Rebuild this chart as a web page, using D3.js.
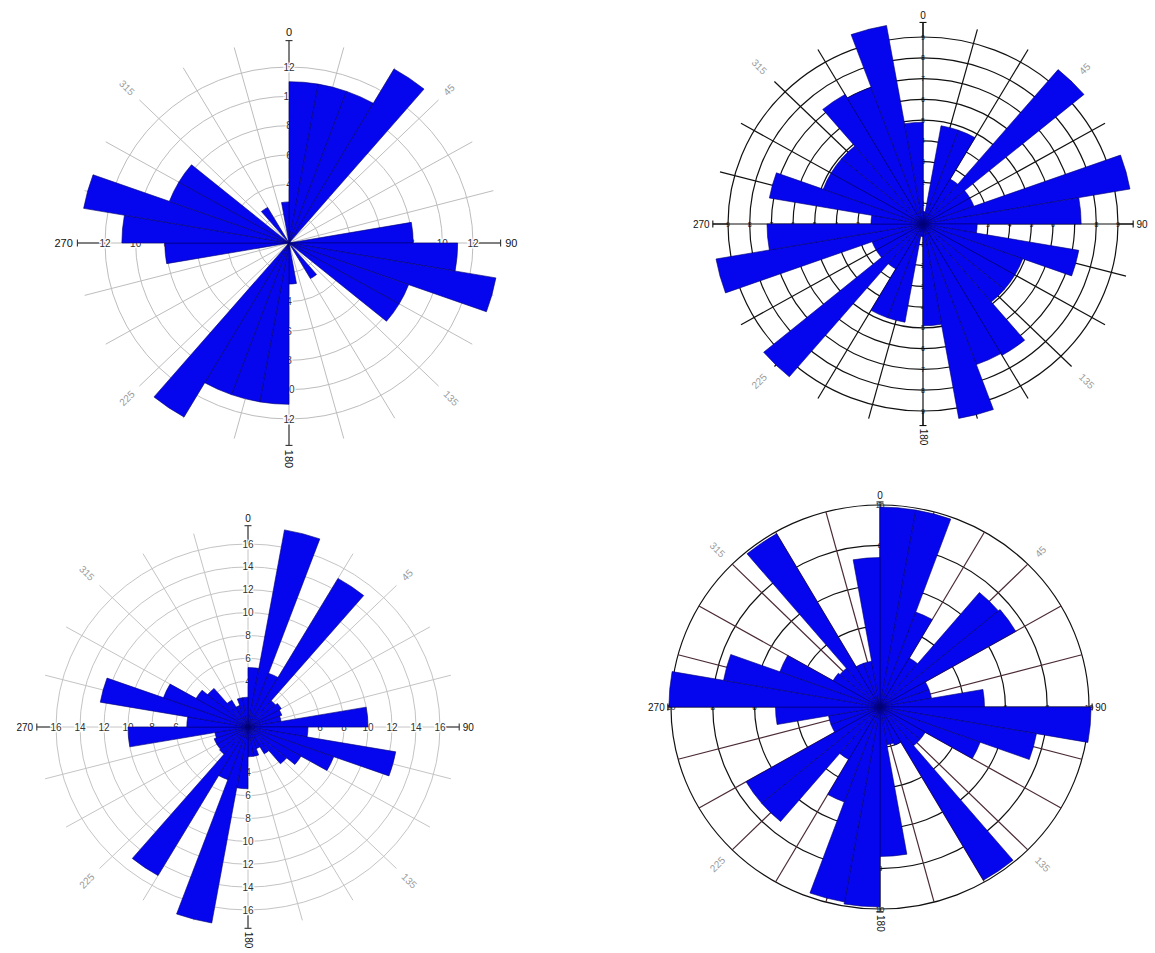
<!DOCTYPE html>
<html><head><meta charset="utf-8">
<script src="https://cdn.jsdelivr.net/npm/d3@7/dist/d3.min.js"></script>
<style>
body{margin:0;background:#fff}
svg{display:block;background:#fff}
text{font-family:"Liberation Sans",Arial,sans-serif}
</style>
</head><body>
<svg id="c" width="1155" height="953"></svg>
<script>
// ---------- DATA ----------
const binStarts = d3.range(0, 360, 10);           // 10-degree bins, clockwise from north
const dirLabels = [[0,"0"],[90,"90"],[180,"180"],[270,"270"]];
const diagLabels = [[45,"45"],[135,"135"],[225,"225"],[315,"315"]];

const roseA = [11,11,11,13.7,0,0,0,0,8.1,11,13.7,8.3,8.3,0,2.8,0,0,2.8,
               11,11,11,13.7,0,0,0,0,8.1,10.9,13.6,8.3,8.3,0,2.8,0,0,2.8];
const ringsA = [2,4,6,8,10,12];

const roseB = [0.6,4.8,4.8,2.5,9.7,2.5,2.5,9.7,7.3,2.5,7.3,4.9,4.9,4.9,7.3,7.2,9.5,4.9,
               0.6,4.8,4.8,2.5,9.6,2.5,2.5,9.7,7.2,2.4,7.2,4.9,4.9,4.9,7.2,7.0,9.7,4.9];
const ringsB = [1,2,3,4,5,6,7,8,9];

const roseC = [5.2,17.5,5.0,15.0,3.0,3.2,3.0,2.8,10.0,5.0,12.5,7.6,5.1,4.2,2.7,2.0,2.6,2.6,
               5.4,17.4,4.9,15.0,3.1,3.0,3.0,2.8,10.0,5.1,12.5,7.5,5.0,4.4,2.7,2.0,2.6,2.6];
const ringsC = [2,4,6,8,10,12,14,16];

const roseD = [9.9,9.9,5.0,2.8,7.4,7.5,2.5,2.5,5.0,10.1,7.6,5.1,2.5,2.5,9.9,2.0,1.9,7.4,
               9.9,9.8,5.0,3.0,7.4,7.4,2.5,2.5,5.0,10.1,7.6,5.1,2.6,2.5,9.9,2.3,2.3,7.4];
const ringsD = [2,4,6,8,10];

// ---------- LAYOUT / STYLE ----------
const cfgA = {cx:289, cy:243, rx:184, ry:176, spokeOut:13.8, ext:13.8, labR:14.1, diagR:14.4,
  grid:"#bdbdbd", spoke:"#bdbdbd", gridW:1, axisCol:"#333", ringFont:10, ringCol:"#333", halo:true, dirFont:11, diagFont:10};
const cfgB = {cx:923, cy:224, rx:195, ry:187, spokeOut:9.7, ext:9.7, labR:9.85, diagR:10.3,
  grid:"#111", spoke:"#111", gridW:1.2, axisCol:"#111", ringFont:7, ringCol:"#111", halo:false, dirFont:10, diagFont:10};
const cfgC = {cx:248, cy:727, rx:192, ry:183, spokeOut:17.5, ext:17.6, labR:17.9, diagR:18.3,
  grid:"#c4c4c4", spoke:"#c4c4c4", gridW:1, axisCol:"#333", ringFont:10, ringCol:"#333", halo:true, dirFont:10, diagFont:10};
const cfgD = {cx:880, cy:707, rx:209, ry:202, spokeOut:10, ext:10.15, labR:10.3, diagR:10.6,
  grid:"#111", spoke:"#4a2a36", gridW:1.2, axisCol:"#111", ringFont:8, ringCol:"#111", halo:false, dirFont:10, diagFont:10};

const barFill = "#0606ee", barStroke = "#00006e";
const svg = d3.select("#c");

function drawRose(cfg, values, rings) {
  const rMax = rings[rings.length - 1];
  const r = d3.scaleLinear().domain([0, rMax]).range([0, cfg.rx]);
  const ang = d3.scaleLinear().domain([0, 360]).range([0, 2 * Math.PI]);
  const ky = cfg.ry / cfg.rx;
  const pt = (v, deg) => [cfg.cx + r(v) * Math.sin(ang(deg)), cfg.cy - r(v) * ky * Math.cos(ang(deg))];
  const tf = `translate(${cfg.cx},${cfg.cy}) scale(1,${ky})`;

  const g = svg.append("g");
  const gridG = g.append("g").attr("transform", tf);
  const axisG = g.append("g");
  const ringLabG = g.append("g");
  const barG = g.append("g").attr("transform", tf);
  const labG = g.append("g");

  // rings
  gridG.selectAll("circle").data(rings).join("circle")
    .attr("r", d => r(d)).attr("fill", "none")
    .attr("stroke", cfg.grid).attr("stroke-width", cfg.gridW)
    .attr("vector-effect", "non-scaling-stroke");

  // spokes every 15 degrees
  gridG.selectAll("line").data(d3.range(0, 360, 15)).join("line")
    .attr("x1", 0).attr("y1", 0)
    .attr("x2", d => r(cfg.spokeOut) * Math.sin(ang(d)))
    .attr("y2", d => -r(cfg.spokeOut) * Math.cos(ang(d)))
    .attr("stroke", d => d % 90 === 0 ? cfg.grid : cfg.spoke).attr("stroke-width", cfg.gridW)
    .attr("vector-effect", "non-scaling-stroke");

  // main axis extensions with caps
  dirLabels.forEach(([deg]) => {
    const a = pt(rMax, deg), b = pt(cfg.ext, deg);
    axisG.append("line").attr("x1", a[0]).attr("y1", a[1]).attr("x2", b[0]).attr("y2", b[1])
      .attr("stroke", cfg.axisCol).attr("stroke-width", 1.1);
    const px = Math.cos(ang(deg)) * 3.5, py = Math.sin(ang(deg)) * 3.5;
    axisG.append("line").attr("x1", b[0] - px).attr("y1", b[1] - py).attr("x2", b[0] + px).attr("y2", b[1] + py)
      .attr("stroke", cfg.axisCol).attr("stroke-width", 1.1);
  });

  // ring labels on the four axes (under the bars)
  dirLabels.forEach(([deg]) => {
    rings.forEach(v => {
      const p = pt(v, deg);
      const t = ringLabG.append("text").attr("x", p[0]).attr("y", p[1])
        .attr("text-anchor", "middle").attr("dominant-baseline", "central")
        .attr("font-size", cfg.ringFont).attr("fill", cfg.ringCol).text(v);
      if (cfg.halo) t.attr("stroke", "#fff").attr("stroke-width", 2.5).attr("paint-order", "stroke");
    });
  });

  // bars
  const arc = d3.arc();
  barG.selectAll("path").data(values.map((v, i) => ({v, a0: binStarts[i], a1: binStarts[i] + 10})))
    .join("path")
    .attr("d", d => arc({innerRadius: 0, outerRadius: r(d.v), startAngle: ang(d.a0), endAngle: ang(d.a1)}))
    .attr("fill", barFill).attr("stroke", barStroke).attr("stroke-width", 0.6)
    .attr("vector-effect", "non-scaling-stroke");

  // direction labels
  dirLabels.forEach(([deg, txt]) => {
    const p = pt(cfg.labR, deg);
    const t = labG.append("text").attr("font-size", cfg.dirFont).attr("fill", "#111").text(txt);
    if (deg === 0) t.attr("x", p[0]).attr("y", p[1]).attr("text-anchor", "middle");
    else if (deg === 90) t.attr("x", p[0]).attr("y", p[1]).attr("text-anchor", "start").attr("dominant-baseline", "central");
    else if (deg === 270) t.attr("x", p[0]).attr("y", p[1]).attr("text-anchor", "end").attr("dominant-baseline", "central");
    else t.attr("transform", `translate(${p[0]},${p[1]}) rotate(90)`).attr("text-anchor", "start").attr("dominant-baseline", "central");
  });
  diagLabels.forEach(([deg, txt]) => {
    const p = pt(cfg.diagR, deg);
    const right = deg < 180;
    labG.append("text").attr("transform", `translate(${p[0]},${p[1]}) rotate(${right ? deg - 90 : deg - 270})`)
      .attr("text-anchor", right ? "start" : "end").attr("dominant-baseline", "central")
      .attr("font-size", cfg.diagFont).attr("fill", "#9a9a9a").text(txt);
  });
}

drawRose(cfgA, roseA, ringsA);
drawRose(cfgB, roseB, ringsB);
drawRose(cfgC, roseC, ringsC);
drawRose(cfgD, roseD, ringsD);
</script>
</body></html>
